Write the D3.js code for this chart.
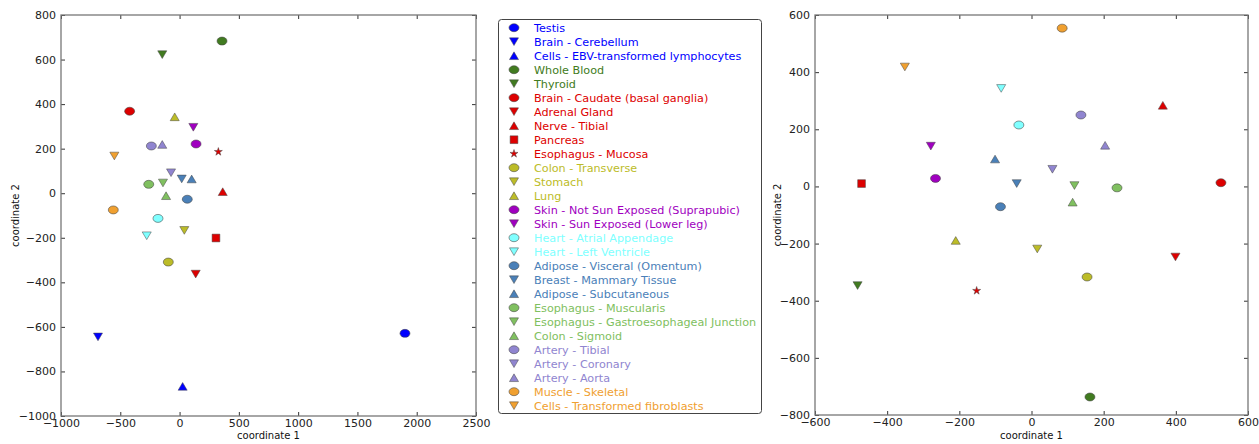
<!DOCTYPE html>
<html>
<head>
<meta charset="utf-8">
<script src="https://cdn.jsdelivr.net/npm/d3@7"></script>
<style>
    body { margin: 0; background: #fff; }
    text { font-family: "DejaVu Sans", sans-serif; }
</style>
</head>
<body>
<svg id="chart" width="1259" height="444"></svg>
<script>
// tissues, in legend order
var tissues = [
    'Testis', 'Brain - Cerebellum', 'Cells - EBV-transformed lymphocytes',
    'Whole Blood', 'Thyroid',
    'Brain - Caudate (basal ganglia)', 'Adrenal Gland', 'Nerve - Tibial', 'Pancreas', 'Esophagus - Mucosa',
    'Colon - Transverse', 'Stomach', 'Lung',
    'Skin - Not Sun Exposed (Suprapubic)', 'Skin - Sun Exposed (Lower leg)',
    'Heart - Atrial Appendage', 'Heart - Left Ventricle',
    'Adipose - Visceral (Omentum)', 'Breast - Mammary Tissue', 'Adipose - Subcutaneous',
    'Esophagus - Muscularis', 'Esophagus - Gastroesophageal Junction', 'Colon - Sigmoid',
    'Artery - Tibial', 'Artery - Coronary', 'Artery - Aorta',
    'Muscle - Skeletal', 'Cells - Transformed fibroblasts'
];
var colors = [
    '#0000ff', '#0000ff', '#0000ff',
    '#417b20', '#417b20',
    '#dd0000', '#dd0000', '#dd0000', '#dd0000', '#dd0000',
    '#bcbc28', '#bcbc28', '#bcbc28',
    '#a000c0', '#a000c0',
    '#80ffff', '#80ffff',
    '#4a80b8', '#4a80b8', '#4a80b8',
    '#80c060', '#80c060', '#80c060',
    '#9085d0', '#9085d0', '#9085d0',
    '#f0a030', '#f0a030'
];
var shapes = [
    'o', 'v', '^', 'o', 'v', 'o', 'v', '^', 's', '*', 'o', 'v', '^', 'o', 'v',
    'o', 'v', 'o', 'v', '^', 'o', 'v', '^', 'o', 'v', '^', 'o', 'v'
];

// left panel (all tissues)
var leftX = [
    1901, -688, 26, 358, -146, -421, 136, 364, 307, 327, -95, 40, -41, 139, 116,
    -182, -277, 65, 18, 102, -260, -140, -114, -238, -72, -146, -559, -550
];
var leftY = [
    -629, -645, -867, 683, 622, 368, -363, 7, -201, 186, -309, -167, 343, 221, 296,
    -113, -191, -27, 64, 64, 40, 46, -11, 212, 92, 219, -75, 167
];

// right panel (first three tissues left out)
var rightX = [
    null, null, null, 162, -482, 525, 399, 364, -471, -152, 154, 16, -210, -266, -279,
    -35, -84, -86, -41, -101, 237, 119, 114, 137, 58, 204, 85, -351
];
var rightY = [
    null, null, null, -737, -347, 13, -247, 284, 10, -365, -317, -219, -189, 28, 141,
    215, 343, -71, 10, 96, -5, 3, -55, 250, 60, 144, 554, 418
];

var leftXTicks = [-1000, -500, 0, 500, 1000, 1500, 2000, 2500];
var leftYTicks = [-1000, -800, -600, -400, -200, 0, 200, 400, 600, 800];
var rightXTicks = [-600, -400, -200, 0, 200, 400, 600];
var rightYTicks = [-800, -600, -400, -200, 0, 200, 400, 600];

var svg = d3.select('#chart');
var fmt = function(v) { return String(v).replace('-', '\u2212'); };

// triangle with its box centred on the point
var triUp = {
    draw : function(ctx, size)
    {
        var w = Math.sqrt(size) * 1.15, h = w * 0.85;
        ctx.moveTo(0, -h / 2);
        ctx.lineTo(w / 2, h / 2);
        ctx.lineTo(-w / 2, h / 2);
        ctx.closePath();
    }
}, triDown = {
    draw : function(ctx, size)
    {
        var w = Math.sqrt(size) * 1.15, h = w * 0.85;
        ctx.moveTo(0, h / 2);
        ctx.lineTo(w / 2, -h / 2);
        ctx.lineTo(-w / 2, -h / 2);
        ctx.closePath();
    }
};

var markerPath = function(shape)
{
    if (shape === 'o') return d3.symbol(d3.symbolCircle, 50)();
    if (shape === 'v') return d3.symbol(triDown, 62)();
    if (shape === '^') return d3.symbol(triUp, 62)();
    if (shape === 's') return d3.symbol(d3.symbolSquare, 60)();
    return d3.symbol(d3.symbolStar, 20)();
};
var markerScale = function(shape)
{
    return shape === 'o' ? 'scale(1.25,1)' : '';
};

var drawPanel = function(box, xDom, yDom, xTicks, yTicks, xs, ys)
{
    var x = d3.scaleLinear().domain(xDom).range([box.left, box.right]),
        y = d3.scaleLinear().domain(yDom).range([box.bottom, box.top]);

    var g = svg.append('g');

    var axis = function(a, tr)
    {
        var ax = g.append('g').attr('transform', tr).call(a);
        ax.select('.domain').remove();
        ax.selectAll('line').attr('stroke', '#333');
        ax.selectAll('text').attr('fill', '#222').style('font-size', '11px').style('font-family', '"DejaVu Sans", sans-serif');
        return ax;
    };

    axis(d3.axisBottom(x).tickValues(xTicks).tickSize(-4).tickPadding(3).tickFormat(fmt),
        'translate(0,' + box.bottom + ')');
    axis(d3.axisTop(x).tickValues(xTicks).tickSize(-4).tickFormat(''),
        'translate(0,' + box.top + ')');
    axis(d3.axisLeft(y).tickValues(yTicks).tickSize(-4).tickPadding(5).tickFormat(fmt),
        'translate(' + box.left + ',0)');
    axis(d3.axisRight(y).tickValues(yTicks).tickSize(-4).tickFormat(''),
        'translate(' + box.right + ',0)');

    g.append('rect')
        .attr('x', box.left).attr('y', box.top)
        .attr('width', box.right - box.left).attr('height', box.bottom - box.top)
        .attr('fill', 'none').attr('stroke', '#777').attr('stroke-width', 1.3);

    var pts = d3.range(tissues.length).filter(function(i) { return xs[i] !== null; });

    g.selectAll('path.pt').data(pts).enter().append('path')
        .attr('class', 'pt')
        .attr('transform', function(i)
        {
            return 'translate(' + x(xs[i]) + ',' + y(ys[i]) + ')' + markerScale(shapes[i]);
        })
        .attr('d', function(i) { return markerPath(shapes[i]); })
        .attr('fill', function(i) { return colors[i]; })
        .attr('stroke', '#444')
        .attr('stroke-width', 0.5);

    g.append('text')
        .attr('x', (box.left + box.right) / 2).attr('y', 439)
        .attr('text-anchor', 'middle').style('font-size', '10px').attr('fill', '#111')
        .text('coordinate 1');
    g.append('text')
        .attr('transform', 'translate(' + box.labelX + ',' + (box.top + box.bottom) / 2 + ') rotate(-90)')
        .attr('text-anchor', 'middle').style('font-size', '10px').attr('fill', '#111')
        .text('coordinate 2');
};

drawPanel({ left : 61, right : 476, top : 15, bottom : 416, labelX : 19 },
    [-1000, 2500], [-1000, 800], leftXTicks, leftYTicks, leftX, leftY);
drawPanel({ left : 815, right : 1248, top : 15, bottom : 415, labelX : 781 },
    [-600, 600], [-800, 600], rightXTicks, rightYTicks, rightX, rightY);

// legend
var legend = svg.append('g');
legend.append('rect')
    .attr('x', 498.5).attr('y', 19.5).attr('width', 263).attr('height', 394)
    .attr('rx', 3).attr('fill', '#fff').attr('stroke', '#444').attr('stroke-width', 1);

var rowY = d3.scalePoint().domain(d3.range(tissues.length)).range([27.7, 405.7]);

var row = legend.selectAll('g.row').data(d3.range(tissues.length)).enter().append('g')
    .attr('class', 'row')
    .attr('transform', function(i) { return 'translate(0,' + rowY(i) + ')'; });

row.append('path')
    .attr('transform', function(i) { return 'translate(514,0)' + markerScale(shapes[i]); })
    .attr('d', function(i) { return markerPath(shapes[i]); })
    .attr('fill', function(i) { return colors[i]; })
    .attr('stroke', '#444').attr('stroke-width', 0.5);

row.append('text')
    .attr('x', 534).attr('dy', '0.36em')
    .style('font-size', '11.2px')
    .attr('fill', function(i) { return colors[i]; })
    .text(function(i) { return tissues[i]; });
</script>
</body>
</html>
